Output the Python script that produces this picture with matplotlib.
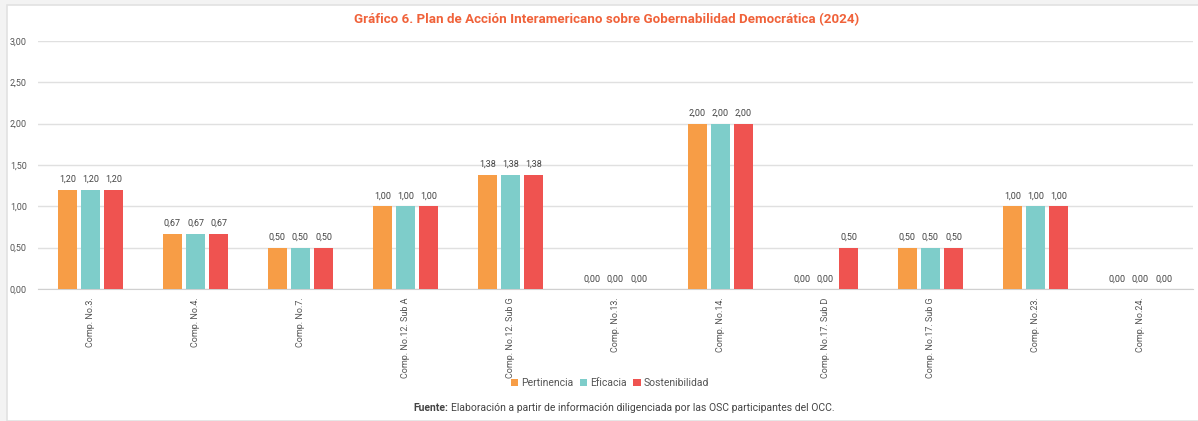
import matplotlib.pyplot as plt
import numpy as np
from matplotlib.patches import Rectangle

plt.rcParams['font.family'] = ['Roboto', 'DejaVu Sans']

# datos del gráfico
componentes = ['Comp. No.3.', 'Comp. No.4.', 'Comp. No.7.', 'Comp. No.12. Sub A',
               'Comp. No.12. Sub G', 'Comp. No.13.', 'Comp. No.14.', 'Comp. No.17. Sub D',
               'Comp. No.17. Sub G', 'Comp. No.23.', 'Comp. No.24.']
pertinencia = [1.20, 0.67, 0.50, 1.00, 1.38, 0.00, 2.00, 0.00, 0.50, 1.00, 0.00]
eficacia = [1.20, 0.67, 0.50, 1.00, 1.38, 0.00, 2.00, 0.00, 0.50, 1.00, 0.00]
sostenibilidad = [1.20, 0.67, 0.50, 1.00, 1.38, 0.00, 2.00, 0.50, 0.50, 1.00, 0.00]
series = ['Pertinencia', 'Eficacia', 'Sostenibilidad']
colores = ['#F79D46', '#7ECDCA', '#EF5350']
y_ticks = [0, 0.5, 1.0, 1.5, 2.0, 2.5, 3.0]

W, H = 1198, 421
fig = plt.figure(figsize=(W / 100, H / 100), dpi=100, facecolor='#f3f3f3')
# tarjeta blanca
fig.patches.append(Rectangle((7 / W, 0), 1, 1 - 5 / H, transform=fig.transFigure,
                             facecolor='white', edgecolor='#e2e2e2', lw=1.2, zorder=-5))

ax = fig.add_axes([38 / W, 1 - 289 / H, 1155 / W, 248 / H], zorder=2)
ax.set_facecolor('white')

x = np.arange(len(componentes))
ancho = 0.18
paso = 0.22
for i, (vals, nombre, c) in enumerate(zip([pertinencia, eficacia, sostenibilidad], series, colores)):
    pos = x + (i - 1) * paso
    ax.bar(pos, vals, width=ancho, color=c, label=nombre, zorder=3)
    for p, v in zip(pos, vals):
        ax.text(p, v + 0.07, f'{v:.2f}'.replace('.', ','), ha='center', va='bottom',
                fontsize=6.5, color='#444444')

ax.set_xlim(-0.5, len(componentes) - 0.5)
ax.set_ylim(0, 3)
ax.set_yticks(y_ticks)
ax.set_yticklabels([f'{t:.2f}'.replace('.', ',') for t in y_ticks], fontsize=6.5, color='#555555')
ax.set_xticks(x)
ax.set_xticklabels(componentes, rotation=90, fontsize=6.5, color='#555555', va='top')
ax.tick_params(axis='both', length=0)
ax.tick_params(axis='y', pad=8)
ax.tick_params(axis='x', pad=6)
ax.grid(axis='y', color='#e0e0e0', lw=1, zorder=0)
for s in ['top', 'right', 'left']:
    ax.spines[s].set_visible(False)
ax.spines['bottom'].set_color('#d0d0d0')

fig.text(607 / W, 1 - 20 / H, 'Gráfico 6. Plan de Acción Interamericano sobre Gobernabilidad Democrática (2024)',
         ha='center', va='center', fontsize=9.6, fontweight='bold', color='#F0623A')

ax.legend(loc='center', bbox_to_anchor=(610 / W, 1 - 383 / H), bbox_transform=fig.transFigure,
          ncol=3, frameon=False, fontsize=7.5, handlelength=0.7, handleheight=0.7,
          handletextpad=0.3, columnspacing=0.6, labelcolor='#555555')

fig.text(413 / W, 1 - 408 / H, 'Fuente:', ha='left', va='center', fontsize=7.5,
         fontweight='bold', color='#444444')
fig.text(451 / W, 1 - 408 / H, 'Elaboración a partir de información diligenciada por las OSC participantes del OCC.',
         ha='left', va='center', fontsize=7.5, color='#444444')

fig.savefig('out.png', dpi=100, facecolor=fig.get_facecolor())
